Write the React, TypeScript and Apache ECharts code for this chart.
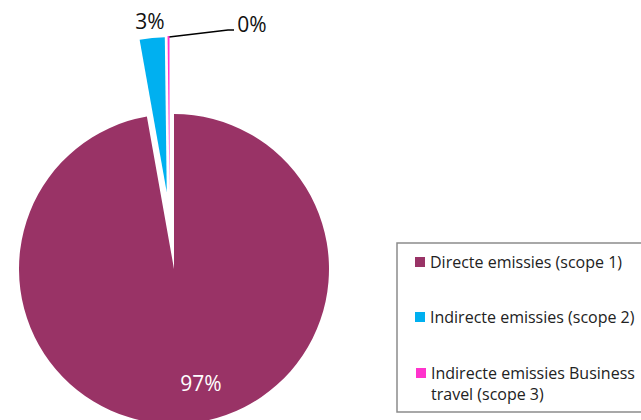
import React, { useEffect, useRef } from "react";
import * as echarts from "echarts";

const categories = [
  "Directe emissies (scope 1)",
  "Indirecte emissies (scope 2)",
  "Indirecte emissies Business travel (scope 3)",
];
const shares = [97.2, 2.6, 0.2];
const colors = ["#993366", "#00B0F0", "#FF33CC"];
const legendLabels: Record<string, string> = {
  "Indirecte emissies Business travel (scope 3)": "\nIndirecte emissies Business\ntravel (scope 3)",
};

export default function App() {
  const ref = useRef<HTMLDivElement>(null);
  useEffect(() => {
    document.body.style.margin = "0";
    const chart = echarts.init(ref.current!, null, { renderer: "svg" });
    const font = "'Open Sans', Lato, sans-serif";

    // Series 1 draws the main slice and the exploded scope-2 slice.
    const series1Data = categories.map((name, i) => ({
      name,
      value: shares[i],
      selected: i === 1,
      itemStyle: { color: i === 2 ? "transparent" : colors[i] },
      label:
        i === 0
          ? { show: true, position: "inside", color: "#ffffff", fontSize: 21 }
          : { show: false },
      labelLine: { show: false },
    }));

    // Series 2 draws the exploded scope-3 slice and the outside labels.
    const series2Data = categories.map((name, i) => ({
      name,
      value: shares[i],
      itemStyle: { color: i === 2 ? colors[i] : "transparent" },
      label:
        i === 0
          ? { show: false }
          : { show: true, position: "outside", color: "#111111", fontSize: 21 },
      labelLine:
        i === 2
          ? { show: true, lineStyle: { color: "#000000", width: 1.5 } }
          : { show: false },
    }));

    chart.setOption({
      animation: false,
      textStyle: { fontFamily: font },
      legend: [
        {
          orient: "vertical",
          left: 397,
          top: 243,
          padding: [10, 60, 86, 18],
          borderColor: "#8c8c8c",
          borderWidth: 1.5,
          itemWidth: 10,
          itemHeight: 10,
          itemGap: 37,
          icon: "rect",
          selectedMode: false,
          textStyle: { fontSize: 16, lineHeight: 18, color: "#222222", fontFamily: font },
          data: [0, 1].map((i) => ({ name: categories[i], itemStyle: { color: colors[i] } })),
        },
        {
          orient: "vertical",
          left: 416,
          top: 341.5,
          padding: 0,
          itemWidth: 10,
          itemHeight: 10,
          icon: "rect",
          selectedMode: false,
          formatter: (name: string) => legendLabels[name] || name,
          textStyle: {
            fontSize: 16,
            lineHeight: 21,
            color: "#222222",
            fontFamily: font,
          },
          data: [{ name: categories[2], itemStyle: { color: colors[2] } }],
        },
      ],
      series: [
        {
          type: "pie",
          center: [174, 269],
          radius: 155,
          startAngle: 90,
          clockwise: true,
          percentPrecision: 0,
          avoidLabelOverlap: false,
          selectedMode: "multiple",
          selectedOffset: 77,
          emphasis: { disabled: true },
          label: { formatter: "{d}%", fontFamily: font },
          labelLayout: (p: any) => {
            if (p.dataIndex === 0) return { x: 201, y: 383, align: "center", verticalAlign: "middle" };
            return {};
          },
          data: series1Data,
        },
        {
          type: "pie",
          center: [169.5, 191],
          radius: 155,
          startAngle: 90,
          clockwise: true,
          percentPrecision: 0,
          avoidLabelOverlap: false,
          silent: true,
          emphasis: { disabled: true },
          label: { formatter: "{d}%", fontFamily: font },
          labelLayout: (p: any) => {
            if (p.dataIndex === 1)
              return { x: 150, y: 21, align: "center", verticalAlign: "middle" };
            if (p.dataIndex === 2)
              return {
                x: 252,
                y: 24,
                align: "center",
                verticalAlign: "middle",
                labelLinePoints: [
                  [169, 37],
                  [228, 30],
                  [234, 30],
                ],
              };
            return {};
          },
          data: series2Data,
        },
      ],
    });
    return () => chart.dispose();
  }, []);
  return <div ref={ref} style={{ width: 641, height: 420 }} />;
}
